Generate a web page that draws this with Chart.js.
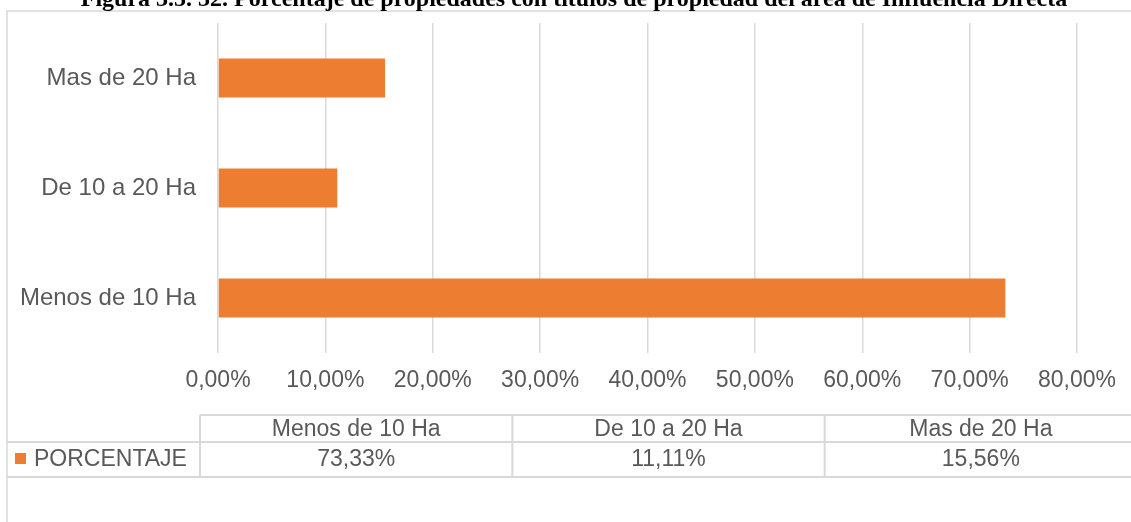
<!DOCTYPE html>
<html>
<head>
<meta charset="utf-8">
<script src="https://cdn.jsdelivr.net/npm/chart.js@4.4.1/dist/chart.umd.min.js"></script>
<style>
  body { margin: 0; background: #fff; }
  #wrap { position: relative; width: 1131px; height: 522px; }
</style>
</head>
<body>
<div id="wrap"><canvas id="grafico"></canvas></div>
<script>
// datos del gráfico
const categorias = ['Menos de 10 Ha', 'De 10 a 20 Ha', 'Mas de 20 Ha'];
const porcentajes = [73.33, 11.11, 15.56];
const serieNombre = 'PORCENTAJE';
const tituloFigura = 'Figura 3.5. 32. Porcentaje de propiedades con títulos de propiedad del área de Influencia Directa';

const GRIS = '#d9d9d9';
const TEXTO = '#595959';
const NARANJA = '#ed7d31';
const FUENTE = '"Liberation Sans", Arial, sans-serif';

function formatoPct(v) {
    return v.toFixed(2).replace('.', ',') + '%';
}

// marco, titulo y tabla de datos
const tablaPlugin = {
    id: 'tablaDatos',
    beforeDraw(chart) {
        const ctx = chart.ctx;
        ctx.save();
        ctx.strokeStyle = GRIS;
        ctx.lineWidth = 1.5;
        ctx.strokeRect(7, 11, 1140, 530);
        ctx.restore();
    },
    afterDraw(chart) {
        const ctx = chart.ctx;
        ctx.save();

        // titulo (cortado arriba)
        ctx.fillStyle = '#000';
        ctx.font = 'bold 24px "Liberation Serif", "Times New Roman", serif';
        ctx.textAlign = 'center';
        ctx.textBaseline = 'alphabetic';
        ctx.fillText(tituloFigura, 574, 6);

        // tabla
        const izq = 200, der = 1137;
        const anchoCol = (der - izq) / categorias.length;
        const y0 = 415, y1 = 442, y2 = 477;
        ctx.strokeStyle = GRIS;
        ctx.lineWidth = 2;
        ctx.beginPath();
        ctx.moveTo(izq, y0); ctx.lineTo(1131, y0);
        ctx.moveTo(7, y1); ctx.lineTo(1131, y1);
        ctx.moveTo(7, y2); ctx.lineTo(1131, y2);
        for (let i = 0; i <= categorias.length; i++) {
            const x = izq + i * anchoCol;
            ctx.moveTo(x, y0); ctx.lineTo(x, y2);
        }
        ctx.stroke();

        ctx.fillStyle = TEXTO;
        ctx.font = '23px ' + FUENTE;
        ctx.textAlign = 'center';
        ctx.textBaseline = 'middle';
        categorias.forEach((c, i) => {
            const cx = izq + (i + 0.5) * anchoCol;
            ctx.fillText(c, cx, 430);
            ctx.fillText(formatoPct(porcentajes[i]), cx, 460);
        });

        // leyenda
        ctx.fillStyle = NARANJA;
        ctx.fillRect(15, 453, 11, 11);
        ctx.fillStyle = TEXTO;
        ctx.textAlign = 'left';
        ctx.fillText(serieNombre, 34, 460);
        ctx.restore();
    }
};

const ctx = document.getElementById('grafico').getContext('2d');
new Chart(ctx, {
    type: 'bar',
    data: {
        labels: categorias,
        datasets: [{
            label: serieNombre,
            data: porcentajes,
            backgroundColor: NARANJA,
            borderWidth: 0,
            categoryPercentage: 1,
            barPercentage: 0.355
        }]
    },
    options: {
        indexAxis: 'y',
        responsive: true,
        maintainAspectRatio: false,
        devicePixelRatio: 1,
        animation: false,
        layout: { padding: { top: 23, right: 54, left: 0, bottom: 0 } },
        plugins: {
            legend: { display: false },
            tooltip: { enabled: false },
            title: { display: false }
        },
        scales: {
            x: {
                min: 0,
                max: 80,
                border: { display: false },
                grid: { color: GRIS, lineWidth: 1.5, drawTicks: false },
                ticks: {
                    stepSize: 10,
                    padding: 14,
                    color: TEXTO,
                    font: { family: FUENTE, size: 23 },
                    callback: v => formatoPct(v)
                },
                afterFit: s => { s.height = 169; s.paddingLeft = 0; s.paddingRight = 0; }
            },
            y: {
                reverse: true,
                border: { display: false },
                grid: { display: false, drawTicks: false },
                ticks: {
                    padding: 22,
                    color: TEXTO,
                    font: { family: FUENTE, size: 24 }
                },
                afterFit: s => { s.width = 218; s.paddingTop = 0; s.paddingBottom = 0; }
            }
        }
    },
    plugins: [tablaPlugin]
});
</script>
</body>
</html>
